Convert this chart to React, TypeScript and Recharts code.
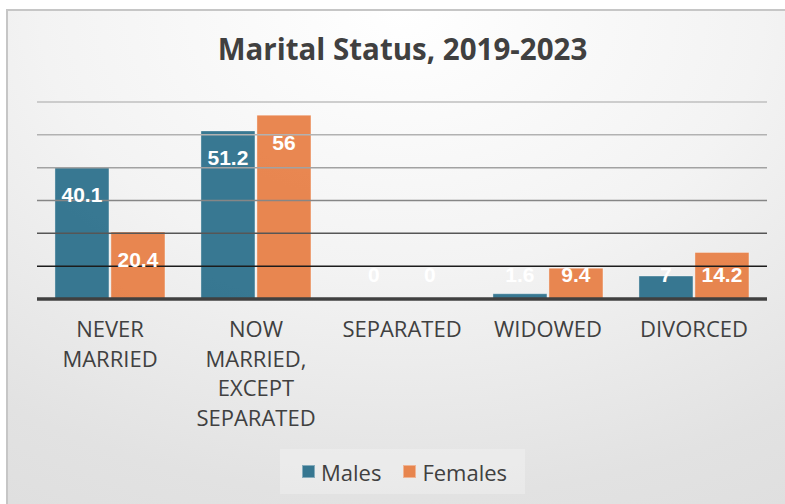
import React from 'react';
import { BarChart, Bar, XAxis, YAxis, ReferenceLine, Legend, LabelList } from 'recharts';

const categories = ['NEVER MARRIED', 'NOW MARRIED, EXCEPT SEPARATED', 'SEPARATED', 'WIDOWED', 'DIVORCED'];
const males = [40.1, 51.2, 0, 1.6, 7];
const females = [20.4, 56, 0, 9.4, 14.2];
const gridTicks = [10, 20, 30, 40, 50, 60];

const data = categories.map((name, i) => ({ name, Males: males[i], Females: females[i] }));

// gridlines fade from near-black at the bottom to light grey at the top
const gridColors = ['#1c1c1c', '#565656', '#868686', '#a2a2a2', '#b2b2b2', '#bfbfbf'];

const MALE = '#1e6784';
const FEMALE = '#e77a3e';
const TEXT = '#404040';
const FONT = '"Open Sans", "Liberation Sans", sans-serif';

// zero bars still need a rectangle so their "0" label gets drawn
const tinyIfZero = (value: any) => (Number(value) === 0 ? 0.01 : 0);

const renderValue = (props: any) => {
  const { x, y, width, height, value } = props;
  const base = y + height;
  const cy = Math.min(y + 27, base - 25);
  return (
    <text
      x={x + width / 2}
      y={cy + 7.5}
      textAnchor="middle"
      fill="#fff"
      fontSize={21}
      fontWeight={700}
      fontFamily='"Liberation Sans", Arial, sans-serif'
    >
      {String(value)}
    </text>
  );
};

const CategoryTick = (props: any) => {
  const { x, y, payload } = props;
  const words: string[] = String(payload.value).split(' ');
  return (
    <g>
      {words.map((w, i) => (
        <text
          key={i}
          x={x}
          y={y + 30 + i * 29.5}
          textAnchor="middle"
          fill={TEXT}
          fontSize={22}
          fontFamily={FONT}
        >
          {w}
        </text>
      ))}
    </g>
  );
};

const LegendBox = () => (
  <div
    style={{
      width: 245,
      height: 45,
      background: 'rgba(255,255,255,0.25)',
      display: 'flex',
      alignItems: 'center',
      fontFamily: FONT,
      fontSize: 22,
      color: TEXT,
    }}
  >
    <span style={{ width: 13, height: 13, marginLeft: 22, background: MALE, opacity: 0.88, border: '1px solid rgba(255,255,255,0.4)', boxSizing: 'border-box' }} />
    <span style={{ marginLeft: 6 }}>Males</span>
    <span style={{ width: 13, height: 13, marginLeft: 22, background: FEMALE, opacity: 0.9, border: '1px solid rgba(255,255,255,0.4)', boxSizing: 'border-box' }} />
    <span style={{ marginLeft: 6 }}>Females</span>
  </div>
);

export default function App() {
  return (
    <div style={{ position: 'fixed', left: 0, top: 0, width: 785, height: 504, overflow: 'hidden', background: '#fff' }}>
      <div
        style={{
          position: 'absolute',
          left: 6,
          top: 9,
          width: 820,
          height: 540,
          border: '2px solid #c6c6c6',
          background: 'radial-gradient(ellipse 110% 120% at 48% 0%, #ffffff 0%, #f3f3f3 40%, #e2e2e2 75%, #dcdcdc 100%)',
        }}
      />
      <div
        style={{
          position: 'absolute',
          left: 20,
          top: 34,
          width: 765,
          textAlign: 'center',
          fontFamily: FONT,
          fontWeight: 700,
          fontSize: 29.5,
          lineHeight: '29px',
          color: TEXT,
        }}
      >
        Marital Status, 2019-2023
      </div>
      <BarChart
        width={785}
        height={504}
        data={data}
        margin={{ top: 102, right: 18, left: 37, bottom: 10 }}
        barCategoryGap="12.3%"
        barGap={2}
        style={{ position: 'absolute', left: 0, top: 0 }}
      >
        <YAxis hide domain={[0, 60]} ticks={gridTicks} />
        {gridTicks.map((t, i) => (
          <ReferenceLine key={t} y={t} stroke={gridColors[i]} strokeWidth={1.5} />
        ))}
        <XAxis
          dataKey="name"
          interval={0}
          height={150}
          tickLine={false}
          axisLine={{ stroke: TEXT, strokeWidth: 3.5 }}
          tick={<CategoryTick />}
        />
        <Legend
          verticalAlign="bottom"
          wrapperStyle={{ left: 280, bottom: 10, width: 245, height: 45 }}
          content={() => <LegendBox />}
        />
        <Bar dataKey="Males" fill={MALE} fillOpacity={0.88} stroke="#ffffff" strokeOpacity={0.35} minPointSize={tinyIfZero} isAnimationActive={false}>
          <LabelList dataKey="Males" content={renderValue} />
        </Bar>
        <Bar dataKey="Females" fill={FEMALE} fillOpacity={0.9} stroke="#ffffff" strokeOpacity={0.35} minPointSize={tinyIfZero} isAnimationActive={false}>
          <LabelList dataKey="Females" content={renderValue} />
        </Bar>
      </BarChart>
    </div>
  );
}
